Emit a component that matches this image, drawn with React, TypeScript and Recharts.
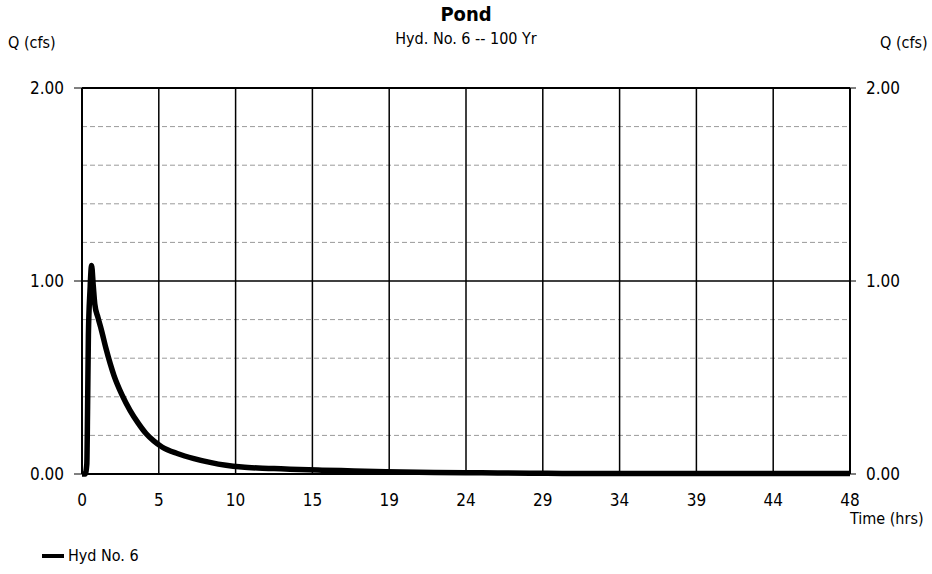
import { LineChart, Line, XAxis, YAxis, CartesianGrid, ReferenceLine } from "recharts";

const FONT = "'DejaVu Sans', sans-serif";

// hydrograph (hrs, cfs)
const hours = [0, 0.2, 0.3, 0.35, 0.4, 0.5, 0.6, 0.7, 0.8, 1.0, 1.2, 1.5, 2.0, 2.5, 3.0, 3.5, 4.0, 4.5, 5, 6, 7, 8, 9, 10, 11, 12, 13, 15, 17, 19, 22, 25, 28, 30, 35, 40, 45, 48];
const flow = [0, 0, 0.05, 0.35, 0.72, 0.95, 1.08, 0.98, 0.88, 0.81, 0.75, 0.65, 0.51, 0.41, 0.33, 0.265, 0.21, 0.17, 0.14, 0.105, 0.08, 0.06, 0.045, 0.036, 0.031, 0.028, 0.025, 0.02, 0.016, 0.012, 0.008, 0.006, 0.004, 0.003, 0.002, 0.002, 0.002, 0.002];

const xTicks = [0, 4.8, 9.6, 14.4, 19.2, 24, 28.8, 33.6, 38.4, 43.2, 48];
const xTickLabels = ["0", "5", "10", "15", "19", "24", "29", "34", "39", "44", "48"];
const yTicks = [0, 1, 2];
const yMinor = [0.2, 0.4, 0.6, 0.8, 1.2, 1.4, 1.6, 1.8];

const data = hours.map((t, i) => ({ t, q: flow[i] }));

const tickStyle = { fill: "#000", fontSize: 17, fontFamily: FONT, fontStretch: "condensed" };

const txt = (extra: any) => ({
  position: "absolute" as const,
  fontFamily: FONT,
  fontStretch: "condensed",
  color: "#000",
  whiteSpace: "nowrap" as const,
  ...extra,
});

export default function App() {
  return (
    <div style={{ position: "absolute", left: 0, top: 0, width: 932, height: 574, background: "#fff" }}>
      <LineChart
        width={932}
        height={574}
        data={data}
        margin={{ top: 88, right: 32, bottom: 72, left: 32 }}
      >
        <CartesianGrid
          yAxisId="left"
          vertical={false}
          horizontalValues={yMinor}
          stroke="#9a9a9a"
          strokeDasharray="5 3"
          strokeWidth={1}
        />
        <CartesianGrid
          yAxisId="left"
          horizontal={false}
          verticalValues={xTicks}
          stroke="#000"
          strokeWidth={1.5}
        />
        <XAxis
          dataKey="t"
          type="number"
          domain={[0, 48]}
          ticks={xTicks}
          tickFormatter={(v: number) => xTickLabels[xTicks.indexOf(v)] ?? ""}
          tick={tickStyle}
          tickLine={false}
          tickMargin={14}
          axisLine={{ stroke: "#000", strokeWidth: 2 }}
          height={28}
        />
        <YAxis
          yAxisId="left"
          type="number"
          domain={[0, 2]}
          ticks={yTicks}
          tickFormatter={(v: number) => v.toFixed(2)}
          tick={tickStyle}
          tickSize={8}
          tickMargin={10}
          tickLine={{ stroke: "#000" }}
          axisLine={{ stroke: "#000", strokeWidth: 2 }}
          width={50}
        />
        <YAxis
          yAxisId="right"
          orientation="right"
          type="number"
          domain={[0, 2]}
          ticks={yTicks}
          tickFormatter={(v: number) => v.toFixed(2)}
          tick={tickStyle}
          tickSize={6}
          tickLine={{ stroke: "#000" }}
          tickMargin={10}
          axisLine={{ stroke: "#000", strokeWidth: 2 }}
          width={50}
        />
        <ReferenceLine yAxisId="left" y={1} stroke="#000" strokeWidth={1.5} />
        <ReferenceLine yAxisId="left" y={2} stroke="#000" strokeWidth={2} />
        <Line
          yAxisId="right"
          type="linear"
          dataKey="q"
          stroke="none"
          dot={false}
          activeDot={false}
          legendType="none"
          isAnimationActive={false}
        />
        <Line
          yAxisId="left"
          type="monotone"
          dataKey="q"
          name="Hyd No. 6"
          stroke="#000"
          strokeWidth={5.5}
          dot={false}
          isAnimationActive={false}
        />
      </LineChart>

      <div style={txt({ left: 0, width: 932, top: 2, textAlign: "center", fontSize: 20, fontWeight: "bold" })}>Pond</div>
      <div style={txt({ left: 0, width: 932, top: 29, textAlign: "center", fontSize: 16 })}>Hyd. No. 6 -- 100 Yr</div>
      <div style={txt({ left: 8, top: 33, fontSize: 16 })}>Q (cfs)</div>
      <div style={txt({ left: 880, top: 33, fontSize: 16 })}>Q (cfs)</div>
      <div style={txt({ left: 850, top: 509, fontSize: 16 })}>Time (hrs)</div>
      <div style={txt({ left: 42, top: 546, fontSize: 16, display: "flex", alignItems: "center" })}>
        <svg width={22} height={10}>
          <line x1={0} y1={5} x2={22} y2={5} stroke="#000" strokeWidth={4} />
        </svg>
        <span style={{ marginLeft: 4 }}>Hyd No. 6</span>
      </div>
    </div>
  );
}
